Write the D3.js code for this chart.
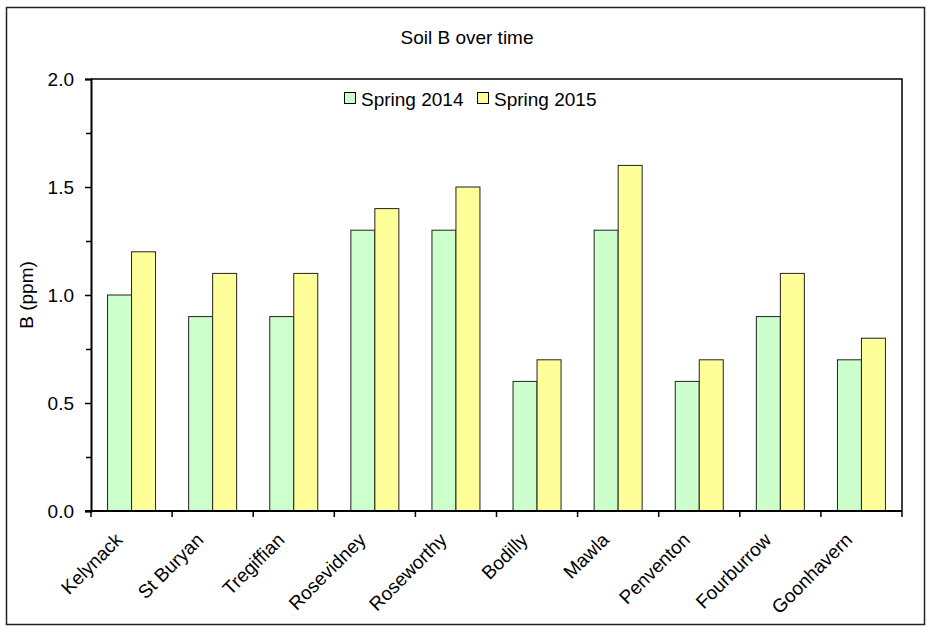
<!DOCTYPE html>
<html>
<head>
<meta charset="utf-8">
<script src="https://cdn.jsdelivr.net/npm/d3@7"></script>
<style>
  html, body { margin: 0; padding: 0; background: #fff; }
  svg { display: block; font-family: "Liberation Sans", Arial, sans-serif; }
</style>
</head>
<body>
<svg id="chart" width="927" height="628"></svg>
<script>
// Soil boron readings per site, two spring surveys
const sites = ["Kelynack", "St Buryan", "Tregiffian", "Rosevidney", "Roseworthy",
               "Bodilly", "Mawla", "Penventon", "Fourburrow", "Goonhavern"];
const spring2014 = [1.0, 0.9, 0.9, 1.3, 1.3, 0.6, 1.3, 0.6, 0.9, 0.7];
const spring2015 = [1.2, 1.1, 1.1, 1.4, 1.5, 0.7, 1.6, 0.7, 1.1, 0.8];
const seriesNames = ["Spring 2014", "Spring 2015"];
const seriesColors = ["#CCFFCC", "#FFFF99"];
const yTicks = [0.0, 0.5, 1.0, 1.5, 2.0];
const yMinorTicks = [0.25, 0.75, 1.25, 1.75];

const svg = d3.select("#chart");
const plot = { left: 91, top: 79, right: 902, bottom: 511 };
const fontSize = 19;

// outer frame
svg.append("rect")
  .attr("x", 6.5).attr("y", 7.5).attr("width", 918).attr("height", 617)
  .attr("fill", "none").attr("stroke", "#222").attr("stroke-width", 1.5);

const x = d3.scaleBand().domain(sites).range([plot.left, plot.right]).padding(0);
const y = d3.scaleLinear().domain([0, 2]).range([plot.bottom, plot.top]);
const barW = 24;

// plot-area border (top and right)
svg.append("path")
  .attr("d", `M${plot.left},${plot.top}H${plot.right}V${plot.bottom}`)
  .attr("fill", "none").attr("stroke", "#000").attr("stroke-width", 1.5);

// bars
const series = [spring2014, spring2015];
series.forEach((vals, si) => {
  svg.append("g").selectAll("rect")
    .data(vals)
    .join("rect")
    .attr("x", (d, i) => x(sites[i]) + x.bandwidth() / 2 - barW + si * barW)
    .attr("y", d => y(d))
    .attr("width", barW)
    .attr("height", d => y(0) - y(d))
    .attr("fill", seriesColors[si])
    .attr("stroke", "#222")
    .attr("stroke-width", 1);
});

// y axis
const yAxis = svg.append("g")
  .attr("transform", `translate(${plot.left},0)`)
  .call(d3.axisLeft(y).tickValues(yTicks).tickFormat(d3.format(".1f")).tickSize(6).tickPadding(11));
yAxis.select(".domain").attr("stroke-width", 2);
yAxis.selectAll(".tick line").attr("stroke-width", 1.5);
yAxis.selectAll("text").attr("font-size", fontSize).attr("fill", "#000")
  .attr("font-family", "Liberation Sans, Arial, sans-serif");
svg.append("g")
  .attr("transform", `translate(${plot.left},0)`)
  .call(d3.axisLeft(y).tickValues(yMinorTicks).tickFormat("").tickSize(5))
  .call(g => g.select(".domain").remove())
  .selectAll(".tick line").attr("stroke-width", 1.5);

// x axis with ticks at category boundaries
const boundaries = sites.map(s => x(s)).concat([plot.right]);
const xAxis = svg.append("g").attr("transform", `translate(0,${plot.bottom})`);
xAxis.append("line")
  .attr("x1", plot.left - 6).attr("x2", plot.right)
  .attr("stroke", "#000").attr("stroke-width", 2);
xAxis.selectAll("line.tick")
  .data(boundaries)
  .join("line")
  .attr("class", "tick")
  .attr("x1", d => d).attr("x2", d => d)
  .attr("y1", 0).attr("y2", 6)
  .attr("stroke", "#000").attr("stroke-width", 1.5);
xAxis.selectAll("text")
  .data(sites)
  .join("text")
  .attr("transform", d => `translate(${x(d) + x.bandwidth() / 2 - 8},${30}) rotate(-45)`)
  .attr("text-anchor", "end")
  .attr("font-size", fontSize)
  .attr("fill", "#000")
  .text(d => d);

// y axis label
svg.append("text")
  .attr("transform", `translate(33,${(plot.top + plot.bottom) / 2}) rotate(-90)`)
  .attr("text-anchor", "middle")
  .attr("font-size", fontSize)
  .text("B (ppm)");

// title
svg.append("text")
  .attr("x", 467).attr("y", 43.5)
  .attr("text-anchor", "middle")
  .attr("font-size", fontSize)
  .text("Soil B over time");

// legend
const legend = svg.append("g").attr("transform", "translate(344,92)");
const legendX = [0, 133];
seriesNames.forEach((name, i) => {
  const g = legend.append("g").attr("transform", `translate(${legendX[i]},0)`);
  g.append("rect").attr("x", 0.5).attr("y", 0.5).attr("width", 11).attr("height", 11)
    .attr("fill", seriesColors[i]).attr("stroke", "#000").attr("stroke-width", 1);
  g.append("text").attr("x", 17).attr("y", 14).attr("font-size", fontSize).text(name);
});
</script>
</body>
</html>
